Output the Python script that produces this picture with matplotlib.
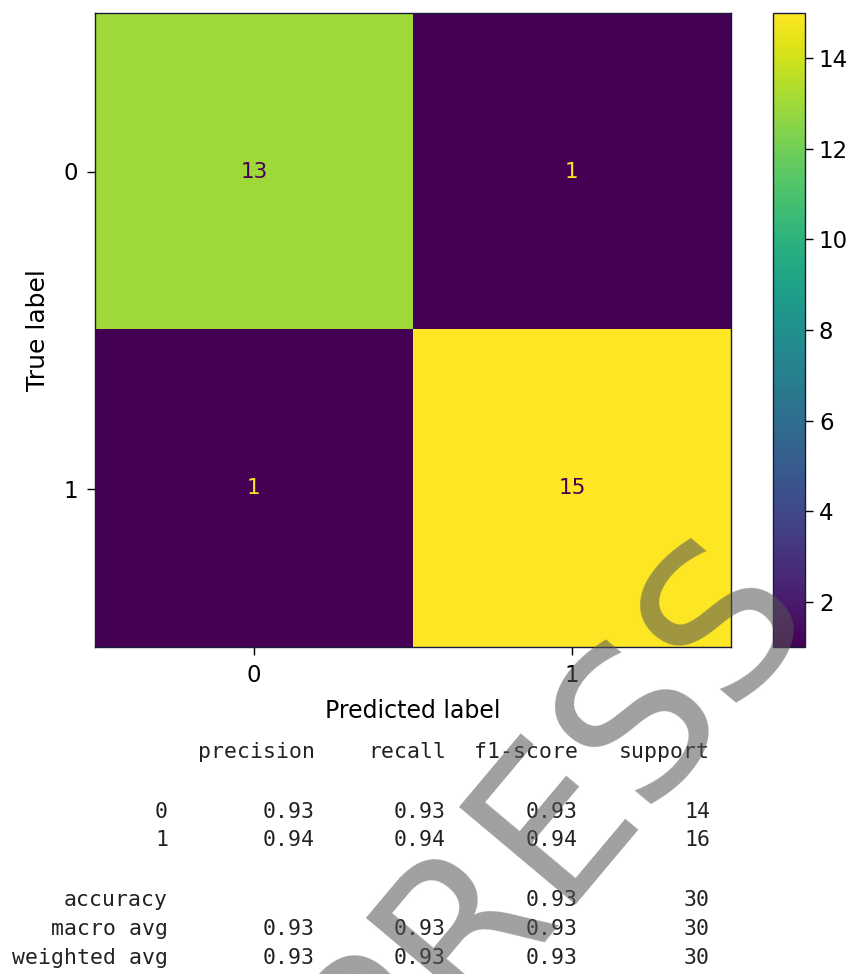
import matplotlib
matplotlib.use("Agg")
import matplotlib.pyplot as plt
import numpy as np

# ---- data ----
class_labels = ["0", "1"]
confusion = [[13, 1],
             [1, 15]]
report_header = ["precision", "recall", "f1-score", "support"]
report_rows = ["0", "1", "", "accuracy", "macro avg", "weighted avg"]
report_precision = ["0.93", "0.94", "", "", "0.93", "0.93"]
report_recall = ["0.93", "0.94", "", "", "0.93", "0.93"]
report_f1 = ["0.93", "0.94", "", "0.93", "0.93", "0.93"]
report_support = ["14", "16", "", "30", "30", "30"]
cbar_ticks = [2, 4, 6, 8, 10, 12, 14]

W, H = 853, 974
fig = plt.figure(figsize=(W / 100, H / 100), dpi=100)

def fx(px):
    return px / W

def fy(py):
    return 1 - py / H

# main axes
ax = fig.add_axes([fx(95), fy(647), fx(731) - fx(95), fy(13) - fy(647)])
cm = np.array(confusion)
im = ax.imshow(cm, cmap="viridis", aspect="auto", interpolation="nearest")
cmap = plt.get_cmap("viridis")
thresh = (cm.max() + cm.min()) / 2.0
for i in range(cm.shape[0]):
    for j in range(cm.shape[1]):
        color = cmap(0.0) if cm[i, j] > thresh else cmap(1.0)
        ax.text(j, i, str(cm[i, j]), ha="center", va="center",
                color=color, fontsize=15.5)
ax.set_xticks(range(len(class_labels)))
ax.set_yticks(range(len(class_labels)))
ax.set_xticklabels(class_labels)
ax.set_yticklabels(class_labels)
ax.tick_params(labelsize=16.5, length=6, width=1, pad=6)
ax.set_xlabel("Predicted label", fontsize=17, labelpad=9)
ax.set_ylabel("True label", fontsize=18, labelpad=10)
for s in ax.spines.values():
    s.set_linewidth(1.0)
    s.set_edgecolor("#1a1a3a")

# colorbar
cax = fig.add_axes([fx(773), fy(647), fx(805) - fx(773), fy(13) - fy(647)])
cb = fig.colorbar(im, cax=cax)
cb.set_ticks(cbar_ticks)
cax.tick_params(labelsize=16.5, length=6, width=1, pad=4)
cb.outline.set_linewidth(1.0)
cb.outline.set_edgecolor("#1a1a3a")

# classification report text
mono = dict(family="DejaVu Sans Mono", fontsize=15.5, color="#222222")
col_right = [315, 446, 578, 710]
for txt, xr in zip(report_header, col_right):
    fig.text(fx(xr), fy(752), txt, ha="right", va="center", **mono)

row_y = [812, 840, 870, 900, 929, 958]
for k, yy in enumerate(row_y):
    vals = [report_rows[k], report_precision[k], report_recall[k],
            report_f1[k], report_support[k]]
    xs = [168] + col_right
    for v, xr in zip(vals, xs):
        if v:
            fig.text(fx(xr), fy(yy), v, ha="right", va="center", **mono)

# watermark overlay (clipped by the figure edge, as in the reference)
fig.text(fx(552), fy(818), "PRESS", rotation=50, ha="center", va="center",
         fontsize=150, color="#555555", alpha=0.56, zorder=20,
         family="DejaVu Sans")

fig.savefig("out.png", dpi=100)
